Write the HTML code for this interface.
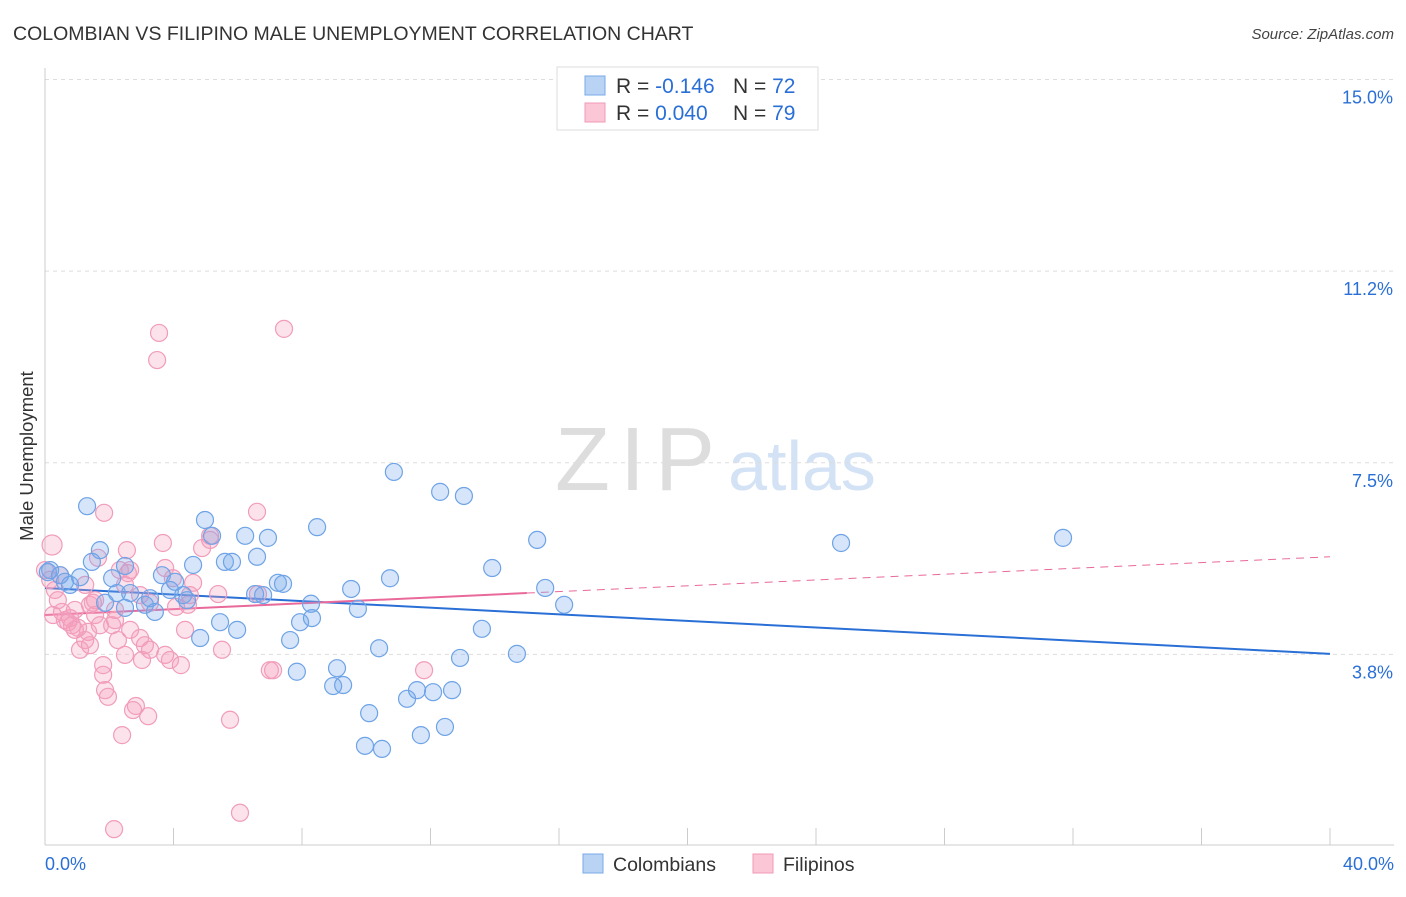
<!DOCTYPE html>
<html><head><meta charset="utf-8"><style>
body{margin:0;background:#fff;font-family:"Liberation Sans",sans-serif;}
svg text{font-family:"Liberation Sans",sans-serif;}
</style></head><body>
<svg id="chart" width="1406" height="892" xmlns="http://www.w3.org/2000/svg">
<text x="13" y="40" font-size="19.5" fill="#333">COLOMBIAN VS FILIPINO MALE UNEMPLOYMENT CORRELATION CHART</text>
<text x="1394" y="39" font-size="15" fill="#444" font-style="italic" text-anchor="end">Source: ZipAtlas.com</text>
<text transform="translate(33,456) rotate(-90)" font-size="18.5" fill="#333" text-anchor="middle">Male Unemployment</text>
<g>
<text x="635" y="490" font-size="90" fill="#ddd" font-family="Liberation Serif, serif" text-anchor="middle" textLength="160">ZIP</text>
<text x="802" y="490" font-size="70" fill="#d3e2f5" text-anchor="middle">atlas</text>
</g>
<g id="grid"></g>
<g id="axes"></g>
<g id="trends"></g>
<g id="points"></g>
<g>
<rect x="557" y="67" width="261" height="63" fill="#fff" stroke="#ddd"/>
<rect x="585" y="76" width="20" height="19" fill="#b9d3f5" stroke="#7aa8e8"/>
<rect x="585" y="103" width="20" height="19" fill="#fbc6d6" stroke="#f09ab6"/>
<text x="616" y="93" font-size="21" fill="#333">R = <tspan fill="#2a6fd6">-0.146</tspan></text>
<text x="733" y="93" font-size="21" fill="#333">N = <tspan fill="#2a6fd6">72</tspan></text>
<text x="616" y="120" font-size="21" fill="#333">R = <tspan fill="#2a6fd6">0.040</tspan></text>
<text x="733" y="120" font-size="21" fill="#333">N = <tspan fill="#2a6fd6">79</tspan></text>
</g>
<g>
<rect x="583" y="854" width="20" height="19" fill="#b9d3f5" stroke="#7aa8e8"/>
<text x="613" y="871" font-size="19.5" fill="#333">Colombians</text>
<rect x="753" y="854" width="20" height="19" fill="#fbc6d6" stroke="#f09ab6"/>
<text x="783" y="871" font-size="19.5" fill="#333">Filipinos</text>
</g>
</svg>
<script>
const yTicks=[15.0,11.25,7.5,3.75];
const yTickLabels=["15.0%","11.2%","7.5%","3.8%"];
const xTickLabels=["0.0%","40.0%"];
const blueX=[1.31,0.16,0.47,0.62,1.09,1.71,1.46,2.09,1.87,2.24,2.49,2.65,3.11,3.27,3.42,3.64,3.89,4.05,4.30,4.42,4.61,4.83,4.98,5.20,5.45,5.60,5.82,5.98,6.23,6.54,6.60,6.79,6.94,7.25,7.41,7.63,7.84,7.94,8.28,8.31,8.47,8.97,9.09,9.28,9.53,9.74,10.09,9.96,10.40,10.49,10.74,10.86,11.27,11.58,11.70,12.08,12.30,12.45,12.67,12.92,13.04,13.60,13.92,14.69,15.32,15.57,16.16,24.78,31.69,0.09,0.78,2.49];
const blueY=[6.65,5.40,5.30,5.17,5.26,5.79,5.56,5.24,4.76,4.95,5.48,4.95,4.72,4.85,4.58,5.30,5.01,5.17,4.91,4.81,5.50,4.07,6.38,6.07,4.38,5.56,5.56,4.23,6.07,4.93,5.66,4.91,6.03,5.15,5.13,4.03,3.41,4.38,4.74,4.46,6.24,3.13,3.48,3.15,5.03,4.64,2.60,1.96,3.87,1.90,5.24,7.32,2.88,3.05,2.17,3.01,6.93,2.33,3.05,3.68,6.85,4.25,5.44,3.76,5.99,5.05,4.72,5.93,6.03,5.36,5.11,4.66];
const pinkX=[0.22,0.16,0.31,0.40,0.53,0.62,0.78,0.84,0.93,1.03,1.09,1.25,1.34,1.40,1.49,1.56,1.65,1.71,1.81,1.81,1.87,1.96,1.84,2.09,2.18,2.27,2.33,2.40,2.49,2.55,2.58,2.65,2.74,2.83,2.96,3.02,3.11,3.21,3.27,3.49,3.55,3.67,3.74,3.89,3.98,4.08,4.23,4.36,4.51,4.61,4.89,5.14,5.39,5.51,5.76,6.07,6.60,6.63,7.00,7.10,7.44,11.80,2.15,0.47,0.72,0.93,1.25,1.56,2.96,3.27,5.14,4.45,0,0.25,1.40,2.65,3.74,2.18,2.49];
const pinkY=[5.89,5.21,5.01,4.81,4.58,4.42,4.46,4.32,4.62,4.27,3.84,4.03,4.19,4.72,4.76,4.52,5.64,4.32,3.54,3.35,3.05,2.92,6.52,4.32,4.42,4.03,5.40,2.17,5.11,5.79,5.34,5.40,2.66,2.74,4.07,3.64,3.93,2.54,3.84,9.51,10.04,5.93,5.44,3.64,5.24,4.68,3.54,4.23,4.91,5.15,5.83,6.07,4.93,3.84,2.47,0.65,6.54,4.93,3.44,3.44,10.12,3.44,0.33,5.30,4.38,4.23,5.11,4.81,4.91,4.76,5.99,4.72,5.40,4.52,3.93,4.23,3.74,4.62,3.74];
const blueTrend=[5.05,3.76];
const pinkTrend=[4.52,4.95,5.66];
const pinkSolidEnd=15;
const NS="http://www.w3.org/2000/svg";
const X0=45,X1=1330,Y0=846,PPY=51.1;
function sx(v){return X0+(X1-X0)*v/40;}
function sy(v){return Y0-v*PPY;}
function mk(tag,attrs,parent){const e=document.createElementNS(NS,tag);for(const k in attrs)e.setAttribute(k,attrs[k]);parent.appendChild(e);return e;}
const grid=document.getElementById('grid'),axes=document.getElementById('axes');
yTicks.forEach((t,i)=>{
  const l=mk('line',{x1:X0,x2:1394,y1:sy(t),y2:sy(t),stroke:'#ddd','stroke-dasharray':'4,4'},grid);
  
  
  const tx=mk('text',{x:1393,y:sy(t)+24,'font-size':18,fill:'#2a6fd6','text-anchor':'end'},axes);
  tx.textContent=yTickLabels[i];
  
  
});
const ax=mk('line',{x1:X0,x2:1394,y1:845,y2:845,stroke:'#ccc'},axes);


const ay=mk('line',{x1:X0,x2:X0,y1:68,y2:845,stroke:'#ccc'},axes);


for(let i=0;i<=10;i++){
  const t=mk('line',{x1:sx(i*4),x2:sx(i*4),y1:828,y2:845,stroke:'#ccc'},axes);
  
  
}
const xl0=mk('text',{x:45,y:870,'font-size':18,fill:'#2a6fd6'},axes);xl0.textContent=xTickLabels[0];


const xl1=mk('text',{x:1394,y:870,'font-size':18,fill:'#2a6fd6','text-anchor':'end'},axes);xl1.textContent=xTickLabels[1];


const pts=document.getElementById('points');
pinkX.forEach((v,i)=>{
  const c=mk('circle',{cx:sx(v),cy:sy(pinkY[i]),r:i===0?10:8.5,fill:'rgba(244,160,190,0.3)',stroke:'#f19cbb','stroke-width':1.2},pts);
  
  
});
blueX.forEach((v,i)=>{
  const c=mk('circle',{cx:sx(v),cy:sy(blueY[i]),r:8.5,fill:'rgba(120,170,235,0.3)',stroke:'#6ea3e6','stroke-width':1.2},pts);
  
  
});
const tr=document.getElementById('trends');
const bt=mk('line',{x1:sx(0),y1:sy(blueTrend[0]),x2:sx(40),y2:sy(blueTrend[1]),stroke:'#2a6fd6','stroke-width':2},tr);


const pt=mk('line',{x1:sx(0),y1:sy(pinkTrend[0]),x2:sx(pinkSolidEnd),y2:sy(pinkTrend[1]),stroke:'#e8699a','stroke-width':2},tr);


const pd=mk('line',{x1:sx(pinkSolidEnd),y1:sy(pinkTrend[1]),x2:sx(40),y2:sy(pinkTrend[2]),stroke:'#e8699a','stroke-width':1,'stroke-dasharray':'8,6'},tr);


</script>
</body></html>
